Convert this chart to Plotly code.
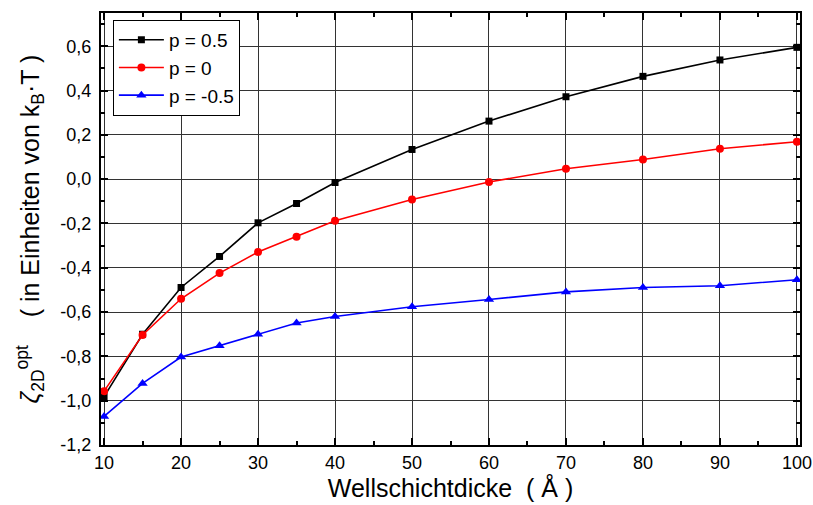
import plotly.graph_objects as go

x = [10, 15, 20, 25, 30, 35, 40, 50, 60, 70, 80, 90, 100]
p_pos = [-0.982, -0.70, -0.489, -0.349, -0.197, -0.11, -0.015, 0.134, 0.262, 0.372, 0.464, 0.538, 0.595]
p_zero = [-0.957, -0.703, -0.540, -0.424, -0.329, -0.26, -0.188, -0.092, -0.013, 0.047, 0.089, 0.137, 0.169]
p_neg = [-1.071, -0.922, -0.803, -0.752, -0.700, -0.649, -0.620, -0.576, -0.543, -0.509, -0.489, -0.481, -0.454]

series = [
    ("p = 0.5", p_pos, "black", "square", 7),
    ("p = 0", p_zero, "red", "circle", 8),
    ("p = -0.5", p_neg, "blue", "triangle-up", 9),
]

xticks = [10, 20, 30, 40, 50, 60, 70, 80, 90, 100]
yticks = [-1.2, -1.0, -0.8, -0.6, -0.4, -0.2, 0.0, 0.2, 0.4, 0.6]
yticklabels = ["-1,2", "-1,0", "-0,8", "-0,6", "-0,4", "-0,2", "0,0", "0,2", "0,4", "0,6"]

fig = go.Figure()
for name, ys, col, sym, sz in series:
    fig.add_trace(go.Scatter(x=x, y=ys, mode="lines+markers", name=name,
                             line=dict(color=col, width=1.6),
                             marker=dict(symbol=sym, size=sz, color=col)))

font = "Liberation Sans, Arial, sans-serif"
fig.update_layout(
    width=813, height=505,
    margin=dict(l=101, r=13, t=13, b=60),
    plot_bgcolor="white", paper_bgcolor="white",
    font=dict(family=font, color="black", size=18),
    legend=dict(x=0.017, y=0.984, xanchor="left", yanchor="top",
                bgcolor="white", bordercolor="black", borderwidth=1,
                font=dict(size=19), tracegroupgap=0, itemwidth=45),
    showlegend=True,
)
fig.update_xaxes(
    range=[9.6, 100.4], tickvals=xticks, ticktext=[str(v) for v in xticks],
    ticks="inside", ticklen=7, tickwidth=1.5, tickcolor="black",
    showline=True, linewidth=2, linecolor="black", mirror="allticks",
    showgrid=True, gridcolor="#333333", gridwidth=1, zeroline=False,
    minor=dict(ticks="inside", ticklen=4, dtick=5, tick0=0, tickcolor="black", showgrid=False),
    title=dict(text="Wellschichtdicke  ( Å )", font=dict(size=25), standoff=4),
    tickfont=dict(size=18), automargin=False,
)
fig.update_yaxes(
    range=[-1.2, 0.75], tickvals=yticks, ticktext=yticklabels,
    ticks="inside", ticklen=7, tickwidth=1.5, tickcolor="black",
    showline=True, linewidth=2, linecolor="black", mirror="allticks",
    showgrid=True, gridcolor="#333333", gridwidth=1, zeroline=False,
    minor=dict(ticks="inside", ticklen=4, dtick=0.1, tick0=0, tickcolor="black", showgrid=False),
    title=dict(text="<i>ζ</i><sub>2D</sub><sup>opt</sup>    ( in Einheiten von k<sub>B</sub>·T )",
               font=dict(size=25), standoff=14),
    tickfont=dict(size=18), ticklabelstandoff=4, automargin=False,
)
fig.write_html("out.html")
